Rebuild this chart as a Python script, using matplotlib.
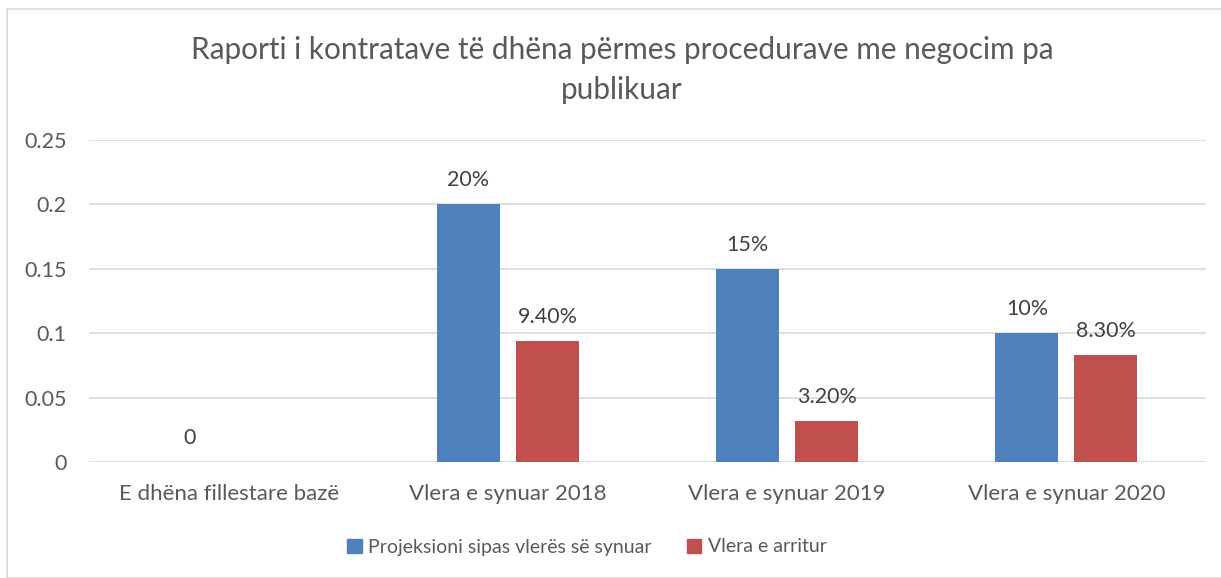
import matplotlib
matplotlib.use("Agg")
import matplotlib.pyplot as plt
import numpy as np
from matplotlib.patches import Rectangle

categories = ["E dhëna fillestare bazë", "Vlera e synuar 2018", "Vlera e synuar 2019", "Vlera e synuar 2020"]
series_names = ["Projeksioni sipas vlerës së synuar", "Vlera e arritur"]
projected = [0.0, 0.20, 0.15, 0.10]
projected_labels = ["0", "20%", "15%", "10%"]
achieved = [None, 0.094, 0.032, 0.083]
achieved_labels = [None, "9.40%", "3.20%", "8.30%"]
yticks = [0, 0.05, 0.1, 0.15, 0.2, 0.25]
ytick_labels = ["0", "0.05", "0.1", "0.15", "0.2", "0.25"]
title = "Raporti i kontratave të dhëna përmes procedurave me negocim pa\npublikuar"

plt.rcParams['font.family'] = ['Lato', 'DejaVu Sans']
txt = "#595959"
blue = "#4F81BD"
red = "#C0504D"

W, H = 1221, 578
fig = plt.figure(figsize=(W/100, H/100), dpi=100)
fig.patches.append(Rectangle((7/W, 0), 1.2, 1 - 9/H, transform=fig.transFigure,
                             fill=False, edgecolor="#d9d9d9", linewidth=1.2))

ax = fig.add_axes([89/W, 1 - 462/H, (1206-89)/W, (462-140)/H])
x = np.arange(len(categories))
bw = 0.226
off = 0.1415
for i in range(len(categories)):
    ax.bar(x[i] - off, projected[i], bw, color=blue, zorder=3)
    ax.text(x[i] - off, projected[i] + 0.011, projected_labels[i], ha="center", va="bottom",
            fontsize=15.5, color="#404040")
    if achieved[i] is not None:
        ax.bar(x[i] + off, achieved[i], bw, color=red, zorder=3)
        ax.text(x[i] + off, achieved[i] + 0.011, achieved_labels[i], ha="center", va="bottom",
                fontsize=15.5, color="#404040")

ax.set_xlim(-0.5, len(categories) - 0.5)
ax.set_ylim(0, 0.25)
ax.set_yticks(yticks)
ax.set_yticklabels(ytick_labels)
ax.set_xticks(x)
ax.set_xticklabels(categories, fontsize=16)
ax.tick_params(axis="y", length=0, labelsize=15.5, colors=txt, pad=16)
ax.tick_params(axis="x", length=0, colors=txt, pad=16)
ax.grid(axis="y", color="#d9d9d9", linewidth=1.2, zorder=0)
for s in ax.spines.values():
    s.set_visible(False)

fig.text(622/W, 1 - 70/H, title, ha="center", va="center", fontsize=21.4, color=txt,
         linespacing=1.55)

handles = [Rectangle((0, 0), 1, 1, color=blue), Rectangle((0, 0), 1, 1, color=red)]
fig.legend(handles, series_names, loc="center", bbox_to_anchor=(587/W, 1 - 547/H), ncol=2,
           frameon=False, fontsize=14, labelcolor=txt, handlelength=0.75, handleheight=0.75,
           handletextpad=0.35, columnspacing=1.8)

fig.savefig("out.png", dpi=100)
